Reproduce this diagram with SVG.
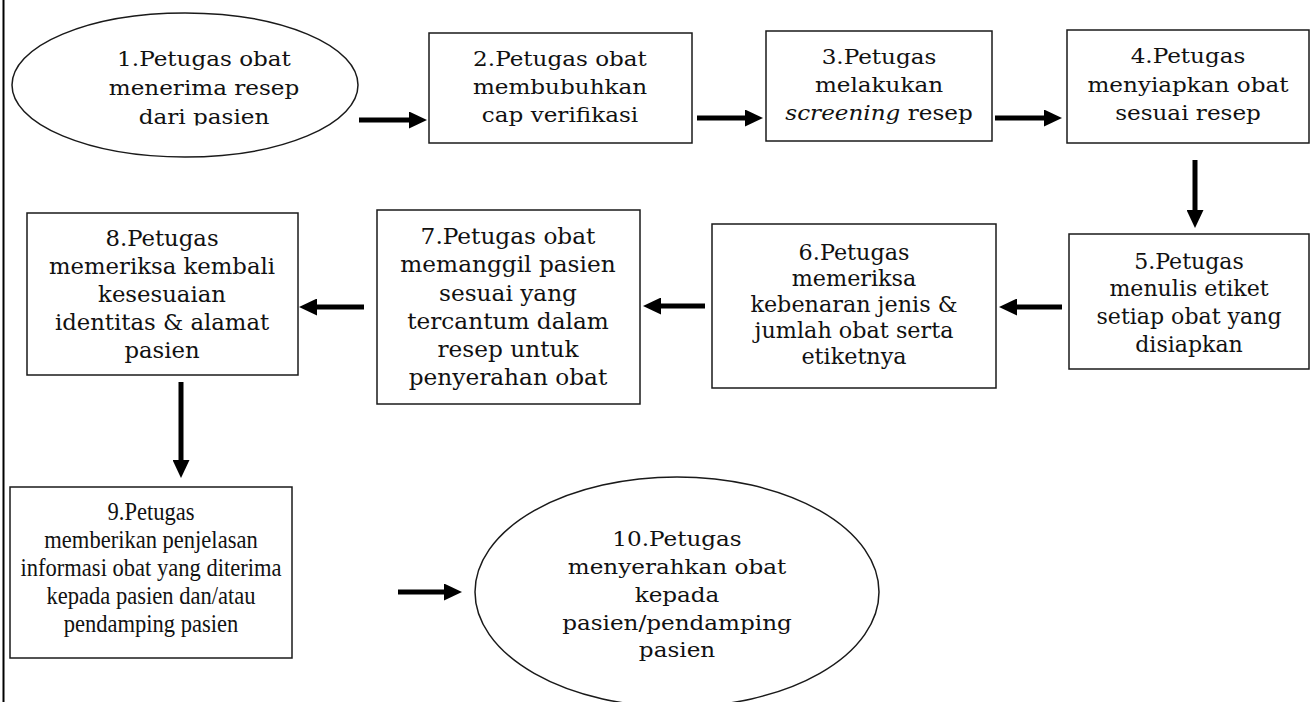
<svg xmlns="http://www.w3.org/2000/svg" width="1311" height="702" viewBox="0 0 1311 702">
  <style>
    .shape { fill: #ffffff; stroke: #1a1a1a; stroke-width: 1.5; }
    .txt { font-family: "DejaVu Serif", "Liberation Serif", serif; fill: #111111; text-anchor: middle; }
    .t1 { font-size: 21px; }
    .t2 { font-size: 23px; }
    .t3 { font-family: "Liberation Serif", "DejaVu Serif", serif; font-size: 24.5px; }
    .conn { stroke: #000000; stroke-width: 5; fill: none; marker-end: url(#head); }
  </style>
  <defs>
    <marker id="head" markerUnits="userSpaceOnUse" markerWidth="18" markerHeight="17" refX="0" refY="8.5" orient="auto">
      <path d="M0,0 L18,8.5 L0,17 Z" fill="#000000"/>
    </marker>
    <clipPath id="clip-n1">
      <rect x="0" y="0" width="400" height="125.5"/>
    </clipPath>
  </defs>

  <rect width="1311" height="702" fill="#ffffff"/>
  <!-- page margin rule -->
  <line x1="3.5" y1="0" x2="3.5" y2="702" stroke="#000000" stroke-width="2"/>

  <!-- connectors -->
  <g id="connectors">
    <line class="conn" x1="359" y1="120" x2="409" y2="120"/>
    <line class="conn" x1="697" y1="118" x2="745" y2="118"/>
    <line class="conn" x1="995" y1="118" x2="1044" y2="118"/>
    <line class="conn" x1="1195" y1="160" x2="1195" y2="210"/>
    <line class="conn" x1="1062" y1="307" x2="1017" y2="307"/>
    <line class="conn" x1="705" y1="306" x2="661" y2="306"/>
    <line class="conn" x1="364" y1="307" x2="317" y2="307"/>
    <line class="conn" x1="181" y1="382" x2="181" y2="460"/>
    <line class="conn" x1="398" y1="592" x2="444" y2="592"/>
  </g>

  <!-- 1 -->
  <g id="n1">
    <ellipse class="shape" cx="185" cy="85" rx="173" ry="72"/>
    <g clip-path="url(#clip-n1)">
      <g class="txt t1" transform="translate(204,0) scale(1.1,1)">
        <text x="0" y="66">1.Petugas obat</text>
        <text x="0" y="95">menerima resep</text>
        <text x="0" y="124">dari pasien</text>
      </g>
    </g>
  </g>

  <!-- 2 -->
  <g id="n2">
    <rect class="shape" x="429" y="33" width="263" height="110"/>
    <g class="txt t1" transform="translate(560,0) scale(1.1,1)">
      <text x="0" y="66">2.Petugas obat</text>
      <text x="0" y="94">membubuhkan</text>
      <text x="0" y="122">cap verifikasi</text>
    </g>
  </g>

  <!-- 3 -->
  <g id="n3">
    <rect class="shape" x="766" y="31" width="226" height="110"/>
    <g class="txt t1" transform="translate(879,0) scale(1.1,1)">
      <text x="0" y="64">3.Petugas</text>
      <text x="0" y="92">melakukan</text>
      <text x="0" y="120"><tspan font-style="italic">screening</tspan> resep</text>
    </g>
  </g>

  <!-- 4 -->
  <g id="n4">
    <rect class="shape" x="1067" y="30" width="242" height="113"/>
    <g class="txt t1" transform="translate(1188,0) scale(1.1,1)">
      <text x="0" y="63">4.Petugas</text>
      <text x="0" y="92">menyiapkan obat</text>
      <text x="0" y="120">sesuai resep</text>
    </g>
  </g>

  <!-- 5 -->
  <g id="n5">
    <rect class="shape" x="1069" y="234" width="240" height="135"/>
    <g class="txt t2" transform="translate(1189,0) scale(0.96,1)">
      <text x="0" y="269">5.Petugas</text>
      <text x="0" y="296">menulis etiket</text>
      <text x="0" y="324">setiap obat yang</text>
      <text x="0" y="352">disiapkan</text>
    </g>
  </g>

  <!-- 6 -->
  <g id="n6">
    <rect class="shape" x="712" y="224" width="284" height="164"/>
    <g class="txt t2" transform="translate(854,0) scale(0.97,1)">
      <text x="0" y="260">6.Petugas</text>
      <text x="0" y="286">memeriksa</text>
      <text x="0" y="312">kebenaran jenis &amp;</text>
      <text x="0" y="338">jumlah obat serta</text>
      <text x="0" y="364">etiketnya</text>
    </g>
  </g>

  <!-- 7 -->
  <g id="n7">
    <rect class="shape" x="377" y="210" width="263" height="194"/>
    <g class="txt t2" transform="translate(508,0) scale(1.01,1)">
      <text x="0" y="244">7.Petugas obat</text>
      <text x="0" y="272.5">memanggil pasien</text>
      <text x="0" y="301">sesuai yang</text>
      <text x="0" y="329">tercantum dalam</text>
      <text x="0" y="357">resep untuk</text>
      <text x="0" y="385">penyerahan obat</text>
    </g>
  </g>

  <!-- 8 -->
  <g id="n8">
    <rect class="shape" x="27" y="213" width="271" height="162"/>
    <g class="txt t2" transform="translate(162,0) scale(0.99,1)">
      <text x="0" y="246">8.Petugas</text>
      <text x="0" y="274">memeriksa kembali</text>
      <text x="0" y="302">kesesuaian</text>
      <text x="0" y="330">identitas &amp; alamat</text>
      <text x="0" y="358">pasien</text>
    </g>
  </g>

  <!-- 9 -->
  <g id="n9">
    <rect class="shape" x="10" y="487" width="282" height="171"/>
    <g class="txt t3" transform="translate(151,0) scale(0.92,1)">
      <text x="0" y="520">9.Petugas</text>
      <text x="0" y="548">memberikan penjelasan</text>
      <text x="0" y="576">informasi obat yang diterima</text>
      <text x="0" y="604">kepada pasien dan/atau</text>
      <text x="0" y="632">pendamping pasien</text>
    </g>
  </g>

  <!-- 10 -->
  <g id="n10">
    <ellipse class="shape" cx="677" cy="592" rx="202" ry="115"/>
    <g class="txt t1" transform="translate(677,0) scale(1.1,1)">
      <text x="0" y="546">10.Petugas</text>
      <text x="0" y="574">menyerahkan obat</text>
      <text x="0" y="602">kepada</text>
      <text x="0" y="630">pasien/pendamping</text>
      <text x="0" y="657">pasien</text>
    </g>
  </g>
</svg>
